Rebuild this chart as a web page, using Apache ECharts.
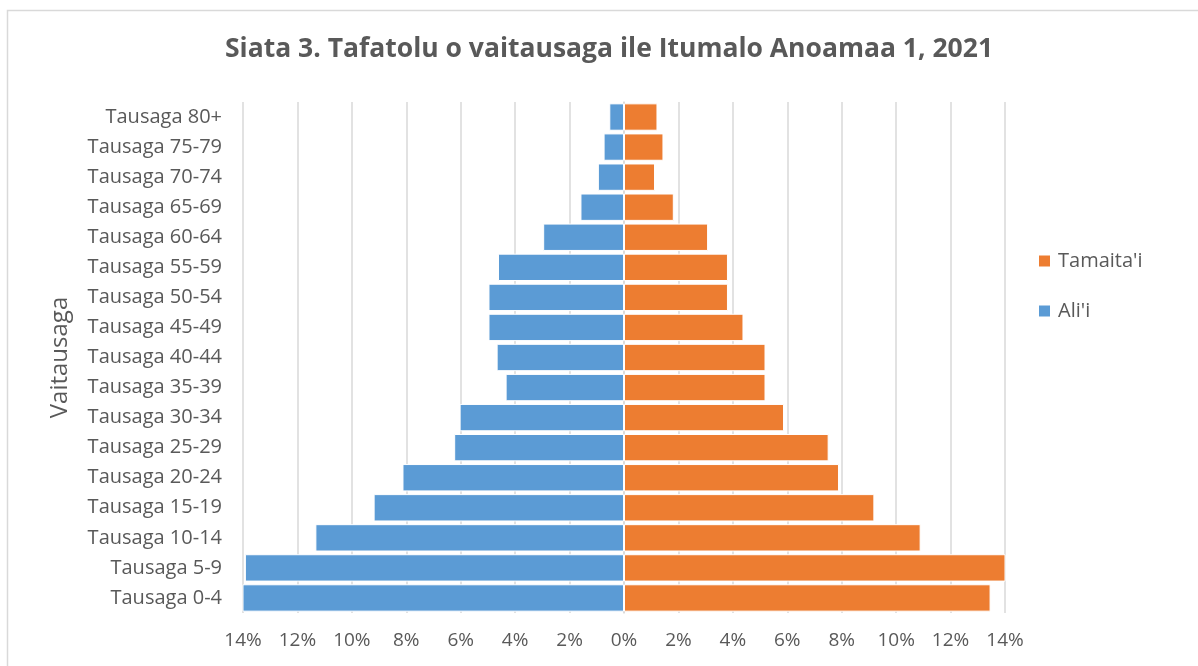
<!DOCTYPE html>
<html>
<head>
<meta charset="utf-8">
<title>Siata 3</title>
<script src="https://cdn.jsdelivr.net/npm/echarts@6/dist/echarts.min.js"></script>
<style>
  html, body { margin: 0; padding: 0; background: #fff; }
  #main { width: 1198px; height: 666px; }
</style>
</head>
<body>
<div id="main"></div>
<script>
// vaitausaga, mai lalo i luga
var ageGroups = ['Tausaga 0-4', 'Tausaga 5-9', 'Tausaga 10-14', 'Tausaga 15-19', 'Tausaga 20-24',
  'Tausaga 25-29', 'Tausaga 30-34', 'Tausaga 35-39', 'Tausaga 40-44', 'Tausaga 45-49',
  'Tausaga 50-54', 'Tausaga 55-59', 'Tausaga 60-64', 'Tausaga 65-69', 'Tausaga 70-74',
  'Tausaga 75-79', 'Tausaga 80+'];

// percent of population
var femaleData = [13.47, 14.1, 10.9, 9.2, 7.9, 7.52, 5.88, 5.2, 5.2, 4.39, 3.82, 3.82, 3.09, 1.83, 1.14, 1.45, 1.23];
var maleData = [14.03, 13.93, 11.34, 9.2, 8.14, 6.24, 6.04, 4.35, 4.68, 4.98, 4.98, 4.63, 2.97, 1.6, 0.96, 0.75, 0.54];

var font = 'Open Sans';
var grey = '#595959';

var chart = echarts.init(document.getElementById('main'));

var option = {
  backgroundColor: '#fff',
  animation: false,
  textStyle: { fontFamily: font },
  title: {
    text: 'Siata 3. Tafatolu o vaitausaga ile Itumalo Anoamaa 1, 2021',
    left: 604,
    textAlign: 'center',
    top: 31,
    textStyle: { fontFamily: font, fontSize: 26.5, fontWeight: 'bold', color: grey }
  },
  graphic: [{
    type: 'rect',
    shape: { x: 7.5, y: 10.5, width: 1200, height: 700 },
    style: { fill: null, stroke: '#d9d9d9', lineWidth: 1.5 },
    silent: true
  }],
  legend: {
    orient: 'vertical',
    left: 1032,
    top: 246,
    itemWidth: 13,
    itemHeight: 13,
    itemGap: 30,
    icon: 'rect',
    data: ["Tamaita'i", "Ali'i"],
    textStyle: { fontFamily: font, fontSize: 20, color: grey, padding: [0, 0, 0, 2] }
  },
  grid: {
    left: 243,
    right: 193,
    top: 102,
    bottom: 53
  },
  xAxis: {
    type: 'value',
    min: -14,
    max: 14,
    interval: 2,
    axisLine: { show: false },
    axisTick: { show: false },
    splitLine: { lineStyle: { color: '#d9d9d9', width: 1.5 } },
    axisLabel: {
      fontFamily: font,
      fontSize: 19,
      color: grey,
      margin: 18,
      formatter: function (v) { return Math.abs(v) + '%'; }
    }
  },
  yAxis: {
    type: 'category',
    data: ageGroups,
    name: 'Vaitausaga',
    nameLocation: 'middle',
    nameGap: 171,
    nameRotate: 90,
    nameTextStyle: { fontFamily: font, fontSize: 24, color: grey },
    axisLine: { onZero: true, lineStyle: { color: '#d9d9d9', width: 1.5 } },
    axisTick: { show: false },
    axisLabel: { fontFamily: font, fontSize: 20, color: grey, margin: 21 }
  },
  series: [{
    name: "Tamaita'i",
    type: 'bar',
    stack: 'pyramid',
    data: femaleData,
    barCategoryGap: '9%',
    itemStyle: { color: '#ED7D31', borderColor: '#fff', borderWidth: 1 }
  }, {
    name: "Ali'i",
    type: 'bar',
    stack: 'pyramid',
    data: maleData.map(function (v) { return -v; }),
    barCategoryGap: '9%',
    itemStyle: { color: '#5B9BD5', borderColor: '#fff', borderWidth: 1 }
  }]
};

chart.setOption(option);
</script>
</body>
</html>
